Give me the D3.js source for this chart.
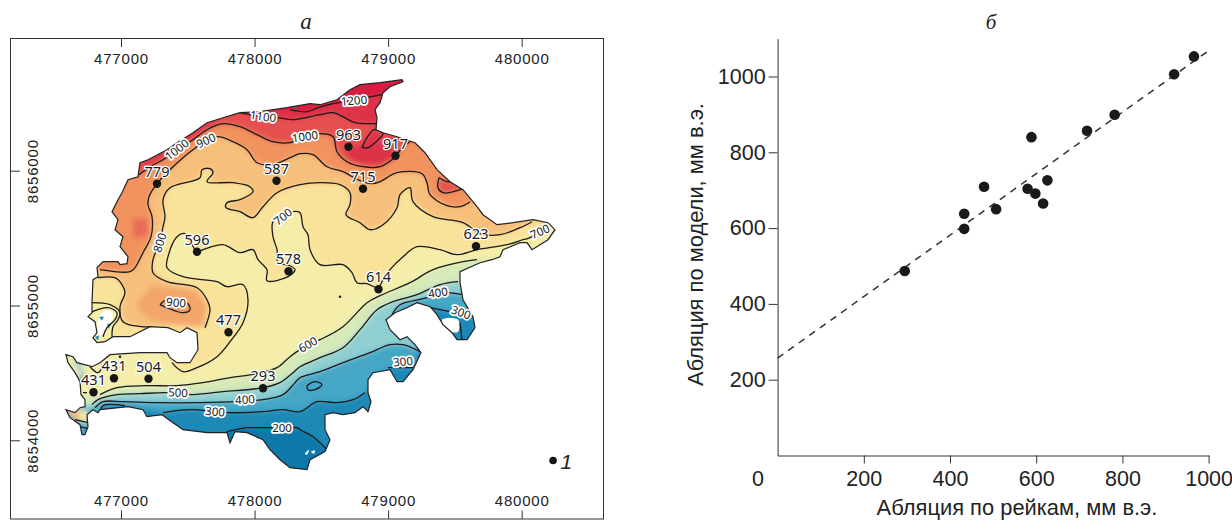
<!DOCTYPE html>
<html>
<head>
<meta charset="utf-8">
<script src="https://cdn.jsdelivr.net/npm/d3@7"></script>
<style>
  body { margin: 0; background: #fff; }
  text { fill: #222; }
  .tick line, .domain { stroke: #333; }
</style>
</head>
<body>
<svg id="chart" width="1232" height="520"></svg>
<script>
// ---- panel a: map ----
// traced points are [east, north] digitizer steps from the 477000 / 8656000 crossing
const stepEast = 7.487; // metres per step
const stepNorth = 7.418;

const eastTicks = [477000, 478000, 479000, 480000];
const northTicks = [8654000, 8655000, 8656000];

const outline = [[-24,-97],[-18,-91],[-3,-91],[-1,-94],[6,-93],[7,-86],[-1,-76],[2,-66],[-6,-59],[-3,-49],[-9,-41],[-3,-29],[1,-22],[7,-9],[17,-6],[19,8],[27,11],[46,21],[56,28],[72,38],[86,48],[102,53],[119,58],[139,59],[166,63],[189,67],[199,66],[216,71],[229,81],[239,86],[259,88],[281,91],[282,89],[269,84],[262,78],[259,68],[254,61],[256,53],[255,41],[262,38],[276,34],[294,28],[304,18],[316,1],[329,-11],[342,-19],[356,-36],[362,-44],[376,-54],[392,-52],[412,-49],[427,-52],[434,-59],[427,-69],[419,-74],[411,-79],[406,-72],[399,-72],[382,-79],[379,-86],[371,-89],[359,-92],[339,-101],[339,-112],[342,-129],[352,-146],[354,-157],[346,-169],[336,-169],[331,-162],[322,-154],[316,-144],[309,-136],[296,-132],[286,-137],[274,-142],[265,-149],[269,-159],[279,-169],[286,-166],[294,-174],[300,-182],[292,-199],[282,-211],[276,-211],[269,-199],[252,-202],[247,-209],[247,-222],[250,-231],[247,-241],[242,-236],[234,-242],[222,-244],[212,-242],[204,-244],[204,-259],[209,-269],[204,-281],[189,-289],[186,-299],[169,-297],[159,-289],[149,-279],[142,-269],[126,-262],[114,-261],[109,-272],[106,-262],[86,-262],[62,-259],[52,-252],[41,-244],[26,-246],[22,-239],[7,-236],[-21,-239],[-23,-242],[-28,-239],[-34,-244],[-33,-256],[-36,-264],[-39,-264],[-41,-254],[-51,-247],[-55,-239],[-46,-242],[-41,-237],[-36,-236],[-36,-229],[-40,-224],[-41,-211],[-46,-202],[-53,-192],[-55,-184],[-48,-186],[-44,-192],[-29,-196],[-21,-192],[-11,-184],[19,-182],[46,-182],[49,-187],[56,-192],[69,-192],[77,-179],[76,-162],[66,-157],[59,-162],[47,-157],[29,-156],[9,-166],[-8,-166],[-16,-171],[-24,-172],[-28,-167],[-24,-162],[-26,-151],[-33,-146],[-29,-142],[-29,-131],[-28,-109],[-23,-106]];

const line1200 = [[169,61],[186,59],[197,63],[212,67],[233,71],[261,76]];
const line1100 = [[119,58],[129,56],[141,54],[156,53],[172,51],[179,52],[199,56],[212,58],[222,54],[234,48],[252,47],[256,47]];
const lobe1100 = [[241,23],[246,33],[253,41],[262,37],[254,28],[247,23],[241,23]];
const line1000 = [[18,-4],[29,4],[42,11],[56,21],[72,31],[86,41],[102,47],[119,44],[136,36],[152,29],[169,28],[184,34],[199,37],[212,34],[216,19],[226,9],[242,4],[259,4],[271,11],[276,16],[281,23],[289,29]];
const lobe1000 = [[318,-7],[326,-11],[336,-12],[342,-17],[336,-20],[322,-22],[317,-17],[318,-7]];
const line900 = [[349,-31],[339,-36],[326,-35],[309,-24],[306,-12],[301,-3],[276,-2],[259,-11],[251,-13],[239,-10],[222,-1],[206,4],[192,16],[179,17],[169,13],[152,6],[136,8],[126,21],[112,29],[97,34],[85,30],[76,24],[62,13],[49,1],[36,-13],[28,-26],[27,-34],[31,-46],[30,-66],[22,-82],[14,-97],[9,-101],[-21,-99]];
const loop900 = [[39,-134],[46,-129],[66,-132],[69,-139],[62,-142],[46,-137],[39,-134]];
const line800 = [[411,-51],[399,-57],[379,-64],[359,-63],[342,-52],[312,-46],[292,-31],[289,-17],[279,-24],[276,-37],[262,-54],[249,-59],[239,-52],[225,-44],[229,-34],[229,-22],[219,-14],[199,-12],[179,-14],[156,-22],[142,-36],[132,-47],[119,-41],[105,-37],[106,-32],[119,-29],[132,-21],[129,-16],[112,-12],[86,-11],[92,-2],[89,2],[81,1],[79,-7],[49,-17],[42,-29],[44,-46],[42,-56],[39,-71],[32,-89],[32,-102],[46,-111],[76,-117],[86,-129],[89,-139],[84,-157]];
const line800west = [[29,-156],[21,-156],[2,-151],[-1,-136],[4,-122],[1,-114],[-6,-107],[-23,-107]];
const line700 = [[424,-57],[409,-67],[402,-69],[386,-74],[356,-79],[336,-84],[319,-79],[296,-76],[282,-86],[269,-99],[262,-109],[257,-117],[246,-113],[236,-112],[231,-102],[222,-94],[199,-94],[189,-79],[187,-64],[182,-56],[179,-42],[172,-41],[162,-46],[152,-51],[152,-66],[156,-79],[157,-92],[169,-95],[174,-99],[167,-106],[146,-110],[146,-99],[137,-89],[132,-79],[119,-82],[102,-74],[82,-79],[76,-81],[64,-63],[56,-66],[47,-86],[46,-97],[62,-106],[96,-111],[106,-116],[122,-114],[127,-129],[122,-152],[109,-171],[96,-186],[76,-197],[62,-201],[51,-192]];
const line600 = [[-21,-224],[-4,-217],[26,-215],[56,-215],[82,-212],[109,-207],[136,-203],[156,-197],[169,-186],[187,-174],[199,-169],[222,-156],[246,-132],[259,-125],[289,-112],[312,-99],[342,-91],[356,-89]];
const line500 = [[-29,-234],[-23,-229],[-4,-224],[19,-223],[46,-222],[69,-224],[102,-221],[142,-217],[159,-212],[172,-202],[179,-196],[199,-187],[222,-177],[239,-159],[256,-139],[272,-131],[296,-124],[319,-114],[337,-111]];
const line400 = [[-26,-237],[-18,-231],[2,-231],[36,-232],[79,-232],[116,-231],[142,-229],[162,-224],[174,-212],[179,-207],[199,-201],[222,-192],[249,-182],[269,-174],[282,-174],[299,-181]];
const line400b = [[271,-144],[279,-134],[306,-127],[317,-122],[342,-124]];
const loop400 = [[186,-215],[194,-211],[201,-214],[194,-219],[187,-219],[186,-215]];
const line300west = [[-21,-242],[-18,-235],[4,-235]];
const line300 = [[42,-242],[69,-239],[106,-242],[142,-241],[162,-239],[179,-241],[196,-231],[216,-232],[232,-229],[244,-222]];
const line300b = [[267,-197],[279,-197],[292,-197]];
const line300c = [[309,-137],[329,-141],[340,-143],[349,-147]];
const tail300c = [[339,-152],[341,-169]];
const line200 = [[106,-261],[126,-257],[136,-257],[161,-257],[176,-257],[179,-259],[192,-266],[206,-279]];
const pocketA = [[-29,-132],[-11,-134],[-1,-142],[-3,-149],[-8,-156],[-9,-166]];
const pocketB = [[-31,-142],[-13,-137],[-4,-142],[-6,-149],[-14,-157],[-18,-166]];
const minorLines = [[[-31,-196],[-23,-202],[-18,-194]],[[-46,-249],[-33,-252]],[[-41,-256],[-33,-258]],[[-38,-222],[-34,-222]]];

// outer edges that close the contour lines into filled areas, they fall outside the coast
const close200 = [[260,-290],[500,-200],[500,150],[-150,150],[-150,-290],[60,-290],[106,-280]];
const close300 = [[500,-147],[500,150],[-150,150],[-150,-270],[-40,-270]];
const close400 = [[500,-124],[500,150],[-150,150],[-150,-245]];
const close500 = [[500,-111],[500,150],[-150,150],[-150,-234]];
const close600 = [[500,-89],[500,150],[-150,150],[-150,-224]];
const close700 = [[44,-174],[-150,-174],[-150,150],[500,150],[500,-57]];
const close800 = [[-150,-107],[-150,150],[500,150],[500,-51]];
const close900 = [[-150,-99],[-150,150],[500,150],[500,-31]];
const close1000 = [[300,40],[300,100],[-50,100],[-50,-4]];
const close1100 = [[270,47],[270,100],[100,100],[100,58]];
const close1200 = [[270,76],[300,100],[150,100],[150,61]];

const baseArea = [[-150,150],[500,150],[500,-320],[-150,-320]];
const bandLevels = [100, 200, 300, 400, 500, 600, 700, 800, 900, 1000, 1100, 1200];
const bandColors = ["#0b78a9", "#1c89b6", "#45a6c6", "#8fcfd3", "#d6e9b8", "#f4eeaa", "#f9e39b", "#f7bf7c", "#f1925f", "#e5504f", "#de3048", "#d71f3f"];
const bandAreas = [
  baseArea,
  line200.concat(close200),
  line300west.concat(line300, line300b, line300c, close300),
  line400.concat(line400b, close400),
  line500.concat(close500),
  line600.concat(close600),
  line700.concat(close700),
  line800.concat(line800west, close800),
  line900.concat(close900),
  line1000.concat(close1000),
  line1100.concat(close1100),
  line1200.concat(close1200)
];

// spots that have no contour line of their own
const spotColors = ["#f3a56b", "#f0965f", "#ea6a58", "#e5504f", "#de3048", "#de3048", "#de3048", "#f7bf7c", "#f4eeaa", "#45a6c6", "#8fcfd3", "#1c89b6"];
const spotAreas = [
  [[30,-115],[75,-120],[85,-135],[80,-155],[30,-150],[15,-135]],
  loop900,
  [[12,-48],[26,-48],[28,-64],[12,-68]],
  lobe1000,
  lobe1100,
  [[224,20],[250,30],[270,25],[275,12],[255,5],[232,10]],
  [[20,8],[46,21],[86,48],[102,53],[86,41],[56,21],[29,4]],
  [[-55,-239],[-42,-236],[-38,-248],[-46,-250]],
  [[-42,-240],[-33,-240],[-32,-252],[-40,-252]],
  [[-41,-257],[-33,-257],[-35,-264],[-40,-264]],
  [[-50,-186],[-40,-192],[-36,-205],[-43,-200]],
  [[-43,-205],[-37,-205],[-37,-210],[-42,-210]]
];
const pocketFill = [[-33,-130],[-11,-133],[0,-142],[-3,-150],[-8,-157],[-8,-175],[-33,-175]];
const iceFree = [
  [[-18,-141],[-9,-141],[-9,-149],[-15,-157],[-18,-164],[-23,-164],[-24,-154]],
  [[184,-283],[188,-279],[186,-284]],
  [[190,-281],[194,-280],[193,-283]],
  [[321,-149],[337,-149],[337,-161],[327,-160]]
];
const blueSpecks = [[[-22,-146],[-17,-146],[-19,-150]],[[-14,-153],[-10,-153],[-12,-158]],[[-26,-166],[-22,-165],[-23,-170]]];
const darkMarks = [[219,-126], [-1,-186]];

const stakeValues = [779, 587, 963, 917, 715, 596, 578, 623, 614, 477, 431, 504, 431, 293];
const stakeEast = [36, 155.5, 227.5, 274.5, 242, 76, 167.5, 355, 257.5, 107.5, -7, 27.5, -27.5, 142];
const stakeNorth = [-13, -10, 24, 15, -18, -81, -100.5, -75.5, -118.5, -161.5, -207.5, -208, -221.5, -217.5];

const contourNames = ["1100", "1200", "1000", "900", "1000", "800", "700", "700", "900", "600", "500", "400", "300", "200", "400", "300", "300"];
const contourEast = [142, 233, 56, 85, 184, 39, 162, 419, 55, 187, 57, 124, 94, 161, 317, 340, 282];
const contourNorth = [54, 70, 21, 30, 34, -72, -46, -61, -132, -174, -222, -229, -241, -257, -122, -142, -191];
const contourTurn = [8, -5, -38, -25, -8, -72, -38, -25, 5, -30, 3, -3, 5, 0, -8, 20, -5];

// ---- panel b: scatter ----
const stakeAblation = [295, 433, 433, 479, 507, 580, 589, 598, 616, 626, 718, 782, 920, 966];
const modelAblation = [487, 638, 598, 709, 650, 704, 840, 691, 665, 726, 857, 899, 1006, 1053];
const fitX = [0, 1000];
const fitY = [257, 1068];
const ablationTicks = [200, 400, 600, 800, 1000];

const svg = d3.select("#chart");

const xMap = d3.scaleLinear().domain([477000, 480000]).range([121, 521.7]);
const yMap = d3.scaleLinear().domain([8654000, 8656000]).range([440.3, 170.7]);
const px = d => xMap(477000 + d[0] * stepEast);
const py = d => yMap(8656000 + d[1] * stepNorth);
const flat = d3.line().x(px).y(py);
const smooth = d3.line().x(px).y(py).curve(d3.curveCatmullRom.alpha(0.5));
const smoothClosed = d3.line().x(px).y(py).curve(d3.curveCatmullRomClosed);
const bandColor = d3.scaleOrdinal(bandLevels, bandColors);

const defs = svg.append("defs");
defs.append("clipPath").attr("id", "coast").append("path").attr("d", flat(outline) + "Z");
defs.append("filter")
  .attr("id", "soft")
  .attr("filterUnits", "userSpaceOnUse")
  .attr("x", 0).attr("y", 0).attr("width", 700).attr("height", 520)
  .append("feGaussianBlur").attr("stdDeviation", 2.6);

const ice = svg.append("g").attr("clip-path", "url(#coast)");
const field = ice.append("g").attr("filter", "url(#soft)");

field.selectAll("path.band")
  .data(bandLevels)
  .join("path")
  .attr("class", "band")
  .attr("d", (d, i) => flat(bandAreas[i]) + "Z")
  .attr("fill", d => bandColor(d));

field.selectAll("path.spot")
  .data(spotColors)
  .join("path")
  .attr("class", "spot")
  .attr("d", (d, i) => flat(spotAreas[i]) + "Z")
  .attr("fill", d => d);

ice.append("path").attr("d", flat(pocketFill) + "Z").attr("fill", bandColor(600));
ice.selectAll("path.free")
  .data(iceFree)
  .join("path")
  .attr("class", "free")
  .attr("d", smoothClosed)
  .attr("fill", "#fff");
ice.selectAll("path.speck")
  .data(blueSpecks)
  .join("path")
  .attr("class", "speck")
  .attr("d", d => flat(d) + "Z")
  .attr("fill", bandColor(200));

// contour lines
const contourLines = [line1200, line1100, lobe1100, line1000, lobe1000, line900, loop900, line800, line800west, line700, line600, line500, line400, line400b, loop400, line300west, line300, line300b, line300c, tail300c, line200, pocketA, pocketB].concat(minorLines);
ice.selectAll("path.contour")
  .data(contourLines)
  .join("path")
  .attr("class", "contour")
  .attr("d", smooth)
  .attr("fill", "none")
  .attr("stroke", "#1b1b1b")
  .attr("stroke-width", 1.3);

ice.selectAll("circle.mark")
  .data(darkMarks)
  .join("circle")
  .attr("class", "mark")
  .attr("cx", px)
  .attr("cy", py)
  .attr("r", 1.3)
  .attr("fill", "#222");

// coast
svg.append("path")
  .attr("d", flat(outline) + "Z")
  .attr("fill", "none")
  .attr("stroke", "#222")
  .attr("stroke-width", 1.2);

// contour labels
svg.selectAll("text.level")
  .data(contourNames)
  .join("text")
  .attr("class", "level")
  .attr("transform", (d, i) => {
    const p = [contourEast[i], contourNorth[i]];
    return `translate(${px(p)},${py(p)}) rotate(${contourTurn[i]})`;
  })
  .attr("text-anchor", "middle")
  .attr("dy", "0.35em")
  .style("font", "11.5px 'Noto Sans'")
  .style("paint-order", "stroke")
  .style("stroke", "#fff")
  .style("stroke-width", 3.5)
  .style("stroke-linejoin", "round")
  .style("fill", "#161a22")
  .text(d => d);

// stakes
const stakePoint = i => [stakeEast[i], stakeNorth[i]];
svg.selectAll("circle.stake")
  .data(stakeValues)
  .join("circle")
  .attr("class", "stake")
  .attr("cx", (d, i) => px(stakePoint(i)))
  .attr("cy", (d, i) => py(stakePoint(i)))
  .attr("r", 4.2)
  .attr("fill", "#161616");
svg.selectAll("text.stakeLabel")
  .data(stakeValues)
  .join("text")
  .attr("class", "stakeLabel")
  .attr("x", (d, i) => px(stakePoint(i)))
  .attr("y", (d, i) => py(stakePoint(i)) - 7)
  .attr("text-anchor", "middle")
  .style("font", "14.5px 'Noto Sans'")
  .style("paint-order", "stroke")
  .style("stroke", "#fff")
  .style("stroke-width", 2.5)
  .style("stroke-linejoin", "round")
  .style("fill", "#161a22")
  .text(d => d);

// frame and map axes
svg.append("rect")
  .attr("x", 10.5).attr("y", 38.5)
  .attr("width", 593).attr("height", 480.5)
  .attr("fill", "none")
  .attr("stroke", "#333");

const styleMapAxis = g => {
  g.select(".domain").remove();
  g.selectAll("text")
    .style("font", "15px 'Liberation Sans'")
    .style("letter-spacing", "0.8px");
};
svg.append("g")
  .attr("transform", "translate(0,38.5)")
  .call(d3.axisBottom(xMap).tickValues(eastTicks).tickFormat(d3.format("d")).tickSize(8.5).tickPadding(6))
  .call(styleMapAxis);
svg.append("g")
  .attr("transform", "translate(0,519)")
  .call(d3.axisTop(xMap).tickValues(eastTicks).tickFormat(d3.format("d")).tickSize(8.5).tickPadding(5))
  .call(styleMapAxis);
svg.append("g")
  .attr("transform", "translate(10.5,0)")
  .call(d3.axisRight(yMap).tickValues(northTicks).tickFormat(d3.format("d")).tickSize(9.5))
  .call(styleMapAxis)
  .selectAll("text")
  .attr("x", 0)
  .attr("dy", 0)
  .attr("text-anchor", "middle")
  .attr("transform", "translate(22,0) rotate(-90)")
  .attr("y", 5.5);

svg.append("circle")
  .attr("cx", xMap(480235)).attr("cy", yMap(8653850))
  .attr("r", 3.8)
  .attr("fill", "#161616");
svg.append("text")
  .attr("x", xMap(480290)).attr("y", yMap(8653790))
  .style("font", "italic 21px 'Liberation Sans'")
  .text("1");

svg.append("text")
  .attr("x", 306).attr("y", 29)
  .attr("text-anchor", "middle")
  .style("font", "italic 23px 'Liberation Serif'")
  .text("а");
svg.append("text")
  .attr("x", 991).attr("y", 29)
  .attr("text-anchor", "middle")
  .style("font", "italic 21px 'Liberation Serif'")
  .text("б");

// scatter
const xAbl = d3.scaleLinear().domain([0, 1000]).range([777.6, 1208.6]);
const yAbl = d3.scaleLinear().domain([0, 1100]).range([455.5, 38.6]);

const styleAblAxis = g => {
  g.selectAll("text").style("font", "21.5px 'Liberation Sans'");
};
svg.append("g")
  .attr("transform", "translate(0,455.5)")
  .call(d3.axisBottom(xAbl).tickValues(ablationTicks).tickFormat(d3.format("d")).tickSize(8).tickSizeOuter(0).tickPadding(7))
  .call(styleAblAxis);
svg.append("g")
  .attr("transform", "translate(777.6,0)")
  .call(d3.axisLeft(yAbl).tickValues(ablationTicks).tickFormat(d3.format("d")).tickSize(9).tickSizeOuter(0).tickPadding(3))
  .call(styleAblAxis);
svg.append("text")
  .attr("x", 758).attr("y", 486)
  .attr("text-anchor", "middle")
  .style("font", "21.5px 'Liberation Sans'")
  .text("0");

svg.append("line")
  .attr("x1", xAbl(fitX[0])).attr("y1", yAbl(fitY[0]))
  .attr("x2", xAbl(fitX[1])).attr("y2", yAbl(fitY[1]))
  .attr("stroke", "#333")
  .attr("stroke-width", 1.5)
  .attr("stroke-dasharray", "7,6");

svg.selectAll("circle.match")
  .data(stakeAblation)
  .join("circle")
  .attr("class", "match")
  .attr("cx", d => xAbl(d))
  .attr("cy", (d, i) => yAbl(modelAblation[i]))
  .attr("r", 5.3)
  .attr("fill", "#1a1a1a");

svg.append("text")
  .attr("x", 1017).attr("y", 515)
  .attr("text-anchor", "middle")
  .style("font", "21.9px 'Liberation Sans'")
  .text("Абляция по рейкам, мм в.э.");
svg.append("text")
  .attr("transform", "translate(703,244.5) rotate(-90)")
  .attr("text-anchor", "middle")
  .style("font", "21.9px 'Liberation Sans'")
  .text("Абляция по модели, мм в.э.");
</script>
</body>
</html>
